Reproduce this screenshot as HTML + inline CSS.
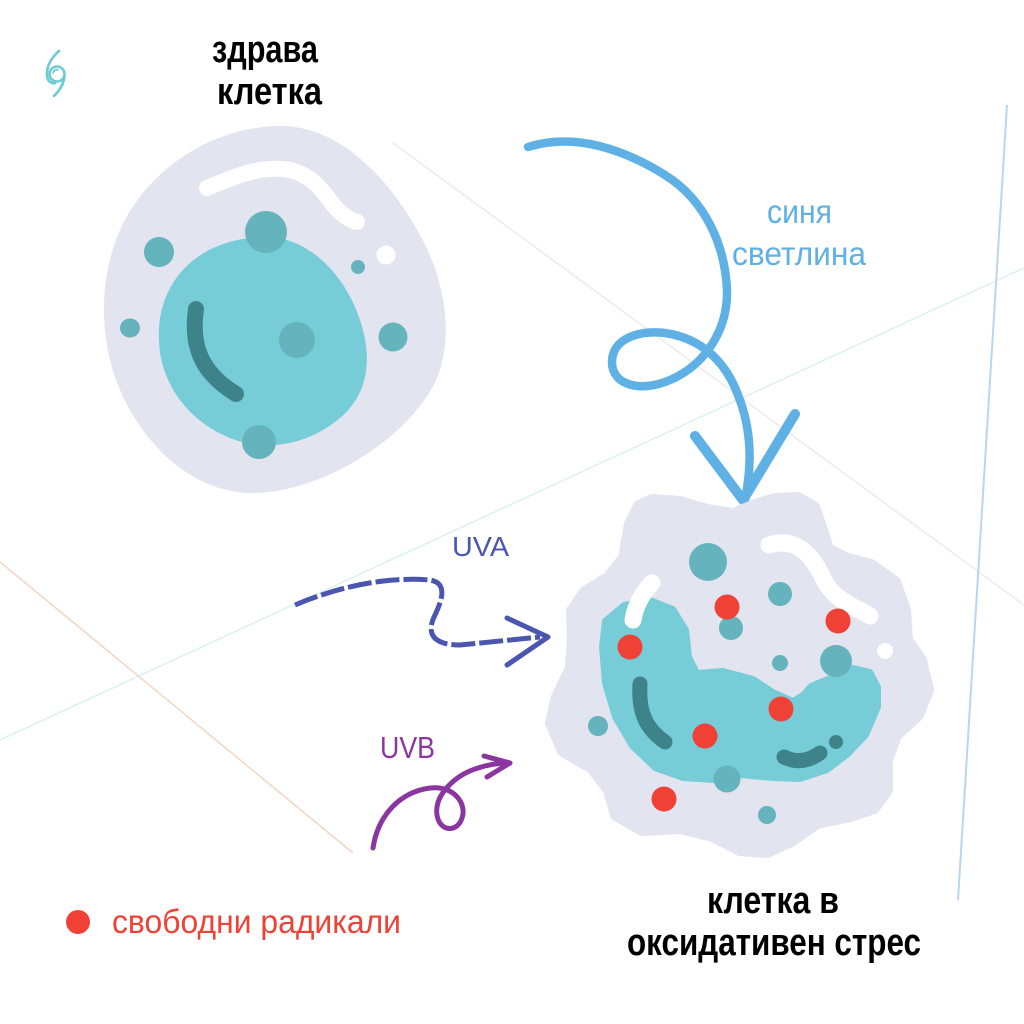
<!DOCTYPE html>
<html><head><meta charset="utf-8">
<style>
html,body{margin:0;padding:0;background:#fff;}
svg{display:block;}
text{font-family:"Liberation Sans","DejaVu Sans",sans-serif;}
</style></head>
<body>
<svg width="1024" height="1024" viewBox="0 0 1024 1024" xmlns="http://www.w3.org/2000/svg">
<rect width="1024" height="1024" fill="#fff"/>
<!-- background lines -->
<line x1="393" y1="143" x2="1024" y2="605" stroke="#ebebee" stroke-width="1.5"/>
<line x1="0" y1="740" x2="1024" y2="268" stroke="#daf1f3" stroke-width="1.5"/>
<line x1="0" y1="562" x2="353" y2="853" stroke="#efd6c4" stroke-width="1.5"/>
<line x1="1007" y1="105" x2="958" y2="900" stroke="#bcd5ef" stroke-width="2"/>

<!-- logo -->
<g fill="none" stroke="#6ccbd4" stroke-width="2.6" stroke-linecap="round">
<path d="M59,51 C51,58 46,67 47,76 C48,82 52,84 55,83"/>
<circle cx="57" cy="74" r="7.5"/>
<path d="M64.5,75 C64,84 60,90 54,96"/>
<path d="M53,73 C54,70 56,69 58,70" stroke-width="1.6"/>
</g>

<!-- titles -->
<text x="212" y="62" font-size="38" font-weight="bold" fill="#000" textLength="106" lengthAdjust="spacingAndGlyphs">здрава</text>
<text x="217" y="104" font-size="38" font-weight="bold" fill="#000" textLength="105" lengthAdjust="spacingAndGlyphs">клетка</text>

<!-- healthy cell -->
<path d="M277,126 C340,124 390,180 420,235 C445,280 452,330 440,370 C420,430 330,490 257,493 C190,495 140,440 118,385 C100,340 98,280 120,230 C150,165 215,128 277,126 Z" fill="#e2e4f0"/>
<path d="M207,188 C235,176 262,165 290,170 C315,176 325,195 335,207 C343,216 350,220 357,222" fill="none" stroke="#fff" stroke-width="16" stroke-linecap="round"/>
<circle cx="386" cy="255" r="9.5" fill="#fff"/>
<path d="M267,237 C310,238 345,275 360,320 C375,365 365,400 335,422 C305,445 265,452 230,438 C190,422 160,385 159,340 C156,285 195,237 267,237 Z" fill="#76cdd8"/>
<path d="M196,309 C190,350 205,375 236,394" fill="none" stroke="#3e838a" stroke-width="16" stroke-linecap="round"/>
<g fill="#65b3bc">
<circle cx="266" cy="232" r="21"/>
<circle cx="159" cy="252" r="15"/>
<ellipse cx="130" cy="328" rx="10" ry="9.5"/>
<circle cx="297" cy="340" r="18"/>
<circle cx="393" cy="337" r="14.5"/>
<circle cx="259" cy="442" r="17"/>
<circle cx="358" cy="267" r="7"/>
</g>

<!-- blue light arrow -->
<g fill="none" stroke="#5fb1e5" stroke-linecap="round" stroke-linejoin="round">
<path stroke-width="8.5" d="M528,147 C575,132 625,150 665,175 C705,200 725,245 727,290 C728,330 705,365 670,380 C640,393 612,385 612,362 C612,338 640,330 665,333 C700,338 725,360 738,395 C752,430 752,465 745,500"/>
<path stroke-width="10" d="M695,436 L743,500 L795,414"/>
</g>
<text x="767" y="223" font-size="33" fill="#5fb1e5" textLength="65" lengthAdjust="spacingAndGlyphs">синя</text>
<text x="732" y="265" font-size="33" fill="#5fb1e5" textLength="134" lengthAdjust="spacingAndGlyphs">светлина</text>

<!-- oxidative cell -->
<polygon points="639,506 652,500 680,502 707,510 733,514 755,505 775,499 798,498 814,507 822,530 828,549 845,558 871,565 895,582 905,610 907,640 921,660 928,690 918,715 896,735 887,760 887,790 874,808 850,816 817,823 793,840 767,852 740,850 713,836 680,828 642,830 616,815 609,790 592,768 563,751 551,723 557,697 571,668 573,637 572,611 585,592 608,578 624,558 630,524" fill="#e2e4f0" stroke="#e2e4f0" stroke-width="12" stroke-linejoin="round"/>
<polygon points="650,600 673,609 686,630 689,657 697,673 723,671 753,679 773,692 793,701 803,695 811,686 830,678 853,668 870,672 878,687 878,707 866,735 847,755 827,770 800,779 773,778 740,775 713,780 683,778 655,768 632,746 615,717 605,683 602,647 605,621 624,605" fill="#76cdd8" stroke="#76cdd8" stroke-width="6" stroke-linejoin="round"/>
<g fill="none" stroke="#fff" stroke-width="17" stroke-linecap="round">
<path d="M652,583 Q636,600 633,620"/>
<path d="M769,545 C798,536 814,558 824,580 C834,600 855,607 870,616"/>
</g>
<circle cx="885" cy="651" r="8" fill="#fff"/>
<g fill="#65b3bc">
<circle cx="708" cy="562" r="19"/>
<circle cx="780" cy="594" r="12"/>
<circle cx="731" cy="628" r="12"/>
<circle cx="780" cy="663" r="8"/>
<circle cx="836" cy="661" r="16"/>
<circle cx="598" cy="726" r="10"/>
<circle cx="727" cy="779" r="13.5"/>
<circle cx="767" cy="815" r="9"/>
</g>
<g fill="none" stroke="#3e838a" stroke-width="15" stroke-linecap="round">
<path d="M640,684 C638,715 648,730 665,742"/>
<path d="M784,757 Q802,766 820,753"/>
</g>
<circle cx="836" cy="742" r="7" fill="#3e838a"/>
<g fill="#ef4136">
<circle cx="727" cy="607" r="12.5"/>
<circle cx="630" cy="647" r="12.5"/>
<circle cx="838" cy="621" r="12.5"/>
<circle cx="781" cy="709" r="12.5"/>
<circle cx="705" cy="736" r="12.5"/>
<circle cx="664" cy="799" r="12.5"/>
</g>

<!-- UVA -->
<text x="452" y="556" font-size="28" fill="#4a56b0" textLength="57" lengthAdjust="spacingAndGlyphs">UVA</text>
<g fill="none" stroke="#4a56b0" stroke-width="5" stroke-linecap="butt" stroke-linejoin="round">
<path stroke-dasharray="24 4" d="M295,605 C330,590 380,576 430,580 C448,583 442,600 435,615 C425,635 435,645 460,645 L540,637"/>
<path stroke-linecap="round" d="M507,618 L548,637 L507,665"/>
</g>

<!-- UVB -->
<text x="380" y="758" font-size="31" fill="#8b35a0" textLength="55" lengthAdjust="spacingAndGlyphs">UVB</text>
<g fill="none" stroke="#8b35a0" stroke-width="5" stroke-linecap="round" stroke-linejoin="round">
<path d="M373,848 C378,815 400,792 430,788 C455,785 467,805 462,818 C458,832 440,833 437,815 C434,795 455,775 478,768 C490,764 500,763 510,763"/>
<path d="M484,756 L510,763 L487,777"/>
</g>

<!-- legend -->
<circle cx="78" cy="922" r="12" fill="#ef4136"/>
<text x="112" y="933" font-size="33" fill="#ef4136" textLength="289" lengthAdjust="spacingAndGlyphs">свободни радикали</text>

<!-- bottom title -->
<text x="707" y="913" font-size="38" font-weight="bold" fill="#000" textLength="132" lengthAdjust="spacingAndGlyphs">клетка в</text>
<text x="627" y="955" font-size="38" font-weight="bold" fill="#000" textLength="294" lengthAdjust="spacingAndGlyphs">оксидативен стрес</text>
</svg>
</body></html>
